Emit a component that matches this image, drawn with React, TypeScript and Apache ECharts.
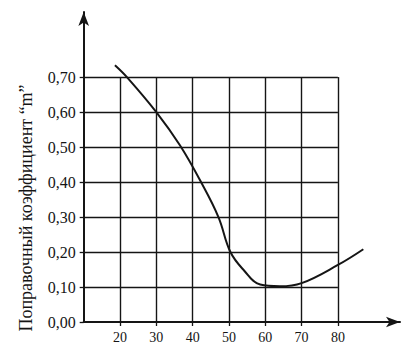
import React, { useEffect, useRef } from "react";
import * as echarts from "echarts";

const curveX = [18.6, 21.9, 30, 36.5, 42.3, 47.1, 50.4, 54.1, 58.6, 64, 70, 80, 87];
const curveY = [0.734, 0.70, 0.60, 0.505, 0.40, 0.30, 0.20, 0.148, 0.107, 0.102, 0.111, 0.163, 0.208];
const xTicks = [20, 30, 40, 50, 60, 70, 80];
const yTicks = [0, 0.1, 0.2, 0.3, 0.4, 0.5, 0.6, 0.7];
const yGridLines = [0.1, 0.2, 0.3, 0.4, 0.5, 0.6, 0.7];
const xMin = 10;
const xGridMax = 80;
const yGridMax = 0.7;
const yAxisTitle = "Поправочный коэффициент “m”";

const FONT = "Liberation Serif";
const INK = "#151515";

export default function App() {
  const ref = useRef<HTMLDivElement>(null);
  useEffect(() => {
    if (!ref.current) return;
    const chart = echarts.init(ref.current, null, { renderer: "svg" });
    const gridMarks: any[] = [];
    xTicks.forEach((x) => gridMarks.push([{ coord: [x, 0] }, { coord: [x, yGridMax] }]));
    yGridLines.forEach((y) => gridMarks.push([{ coord: [xMin, y] }, { coord: [xGridMax, y] }]));
    chart.setOption({
      animation: false,
      backgroundColor: "#ffffff",
      grid: { left: 83.7, right: 7, top: 12, bottom: 33 },
      graphic: [
        {
          type: "text",
          x: 26,
          y: 208,
          rotation: Math.PI / 2,
          style: {
            text: yAxisTitle,
            fill: INK,
            font: `18px "${FONT}"`,
            align: "center",
            verticalAlign: "middle",
          },
        },
      ],
      xAxis: {
        type: "value",
        min: xMin,
        max: 97.1,
        splitLine: { show: false },
        axisLine: {
          show: true,
          lineStyle: { color: INK, width: 2 },
          symbol: ["none", "arrow"],
          symbolSize: [8, 14],
        },
        axisTick: { show: true, customValues: xTicks, length: 4, lineStyle: { color: INK, width: 1.3 } },
        axisLabel: {
          customValues: xTicks,
          color: INK,
          fontFamily: FONT,
          fontSize: 14,
          margin: 8,
        },
      },
      yAxis: {
        type: "value",
        min: 0,
        max: 0.886,
        splitLine: { show: false },
        axisLine: {
          show: true,
          lineStyle: { color: INK, width: 2 },
          symbol: ["none", "arrow"],
          symbolSize: [8, 14],
        },
        axisTick: { show: true, customValues: yTicks, length: 4, lineStyle: { color: INK, width: 1.3 } },
        axisLabel: {
          customValues: yTicks,
          color: INK,
          fontFamily: FONT,
          fontSize: 16,
          margin: 8,
          formatter: (v: number) => v.toFixed(2).replace(".", ","),
        },
      },
      series: [
        {
          type: "line",
          data: [],
          silent: true,
          markLine: {
            silent: true,
            symbol: ["none", "none"],
            label: { show: false },
            lineStyle: { color: INK, width: 1.4, type: "solid" },
            emphasis: { disabled: true },
            data: gridMarks,
          },
        },
        {
          type: "line",
          data: curveX.map((x, i) => [x, curveY[i]]),
          smooth: 0.4,
          showSymbol: false,
          symbol: "none",
          lineStyle: { color: INK, width: 2 },
        },
      ],
    });
    return () => chart.dispose();
  }, []);
  return <div ref={ref} style={{ width: 407, height: 355, position: "absolute", left: 0, top: 0 }} />;
}
